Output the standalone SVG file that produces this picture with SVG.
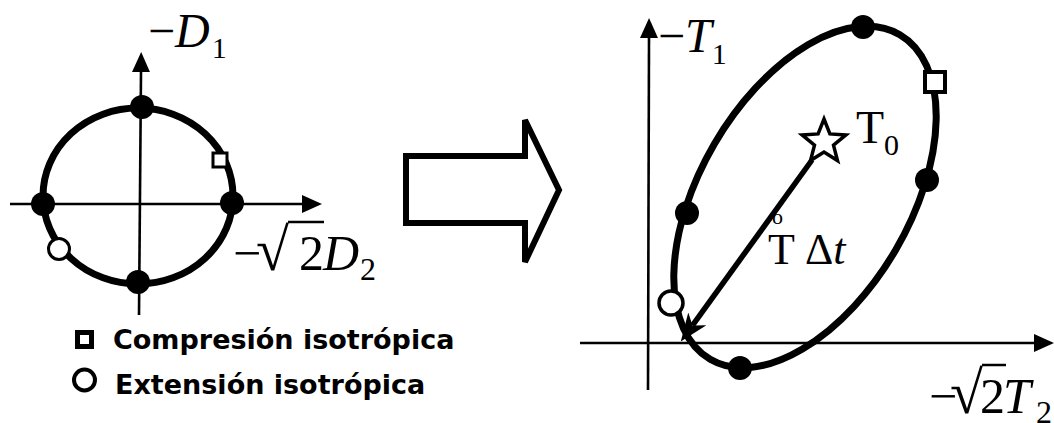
<svg xmlns="http://www.w3.org/2000/svg" width="1054" height="423" viewBox="0 0 1054 423">
<style>
.math{font-family:"Liberation Serif","Times New Roman",serif;fill:#000}
.it{font-style:italic}
.leg{font-family:"DejaVu Sans",Verdana,sans-serif;font-weight:bold;font-size:27px;fill:#000}
.axis{stroke:#000;stroke-width:2.6;fill:none}
.curve{stroke:#000;stroke-width:7;fill:none}
.dot{fill:#000}
.open{fill:#fff;stroke:#000}
</style>
<defs>
<marker id="ah" markerUnits="userSpaceOnUse" markerWidth="20" markerHeight="18" refX="0" refY="9" orient="auto" viewBox="0 0 20 18">
<path d="M0,0 L20,9 L0,18 z" fill="#000"/>
</marker>
<marker id="barb" markerUnits="userSpaceOnUse" markerWidth="28" markerHeight="22" refX="8" refY="11" orient="auto" viewBox="0 0 28 22">
<path d="M0,0 L28,11 L0,22 L8,11 z" fill="#000"/>
</marker>
</defs>
<rect width="1054" height="423" fill="#fff"/>

<g id="connectors">
<line class="axis" x1="139" y1="315" x2="141" y2="72" marker-end="url(#ah)"/>
<line class="axis" x1="10" y1="204" x2="302" y2="204" marker-end="url(#ah)"/>
<line class="axis" x1="648" y1="390" x2="649" y2="38" marker-end="url(#ah)"/>
<line class="axis" x1="580" y1="343" x2="1034" y2="343" marker-end="url(#ah)"/>
<line x1="812" y1="160" x2="692.5" y2="325.4" stroke="#000" stroke-width="5.5" marker-end="url(#barb)"/>
</g>

<g id="left-circle">
<ellipse class="curve" cx="138" cy="196" rx="95" ry="88"/>
<circle class="dot" cx="142" cy="107" r="12"/>
<circle class="dot" cx="138" cy="282" r="12"/>
<circle class="dot" cx="43" cy="204" r="12"/>
<circle class="dot" cx="232" cy="203" r="12"/>
<rect class="open" x="213" y="153" width="14" height="14" stroke-width="3"/>
<circle class="open" cx="59" cy="249" r="10.5" stroke-width="3"/>
</g>

<g id="label-D1">
<text class="math" x="148" y="47" font-size="48">−<tspan class="it">D</tspan><tspan font-size="30" dx="2" dy="11">1</tspan></text>
</g>

<g id="label-D2">
<text class="math" y="270" font-size="50"><tspan x="233">−</tspan><tspan x="256" font-size="60">√</tspan><tspan x="299">2</tspan><tspan x="323" class="it">D</tspan><tspan x="360" dy="10" font-size="32">2</tspan></text>
<line x1="288" y1="222" x2="324" y2="222" stroke="#000" stroke-width="2.5"/>
</g>

<g id="legend-compresion">
<rect x="77.5" y="332.5" width="14" height="14" fill="#fff" stroke="#000" stroke-width="5"/>
<text class="leg" x="113" y="349">Compresión isotrópica</text>
</g>
<g id="legend-extension">
<circle cx="84.5" cy="380" r="10.5" fill="#fff" stroke="#000" stroke-width="4"/>
<text class="leg" x="115" y="394">Extensión isotrópica</text>
</g>

<g id="big-arrow">
<polygon points="406,156 525,156 525,120 559,190 525,262 525,223 406,223" fill="#fff" stroke="#000" stroke-width="6" stroke-linejoin="miter"/>
</g>

<g id="right-ellipse">
<ellipse class="curve" cx="805" cy="197" rx="188" ry="105" transform="rotate(-59.7 805 197)"/>
<circle class="dot" cx="863" cy="27" r="12"/>
<circle class="dot" cx="687" cy="213" r="12"/>
<circle class="dot" cx="927" cy="180" r="12"/>
<circle class="dot" cx="740" cy="368" r="12"/>
<rect class="open" x="925" y="72" width="20" height="20" stroke-width="4"/>
<circle class="open" cx="671" cy="303" r="12" stroke-width="3.5"/>
</g>

<g id="star-T0">
<polygon points="824,119 829.9,133.9 845.9,134.9 833.5,145.1 837.5,160.6 824,152 810.5,160.6 814.5,145.1 802.1,134.9 818.1,133.9" fill="#fff" stroke="#000" stroke-width="3.5" stroke-linejoin="miter"/>
<text class="math" x="856" y="143" font-size="46">T<tspan font-size="30" dy="12">0</tspan></text>
</g>

<g id="label-T1">
<text class="math" x="658" y="52" font-size="48">−<tspan class="it">T</tspan><tspan font-size="30" dy="12">1</tspan></text>
</g>

<g id="label-Tdt">
<text class="math" x="772" y="224" font-size="22">o</text>
<text class="math" x="768" y="264" font-size="44">T<tspan dx="10">Δ</tspan><tspan class="it">t</tspan></text>
</g>

<g id="label-T2">
<text class="math" y="413" font-size="50"><tspan x="929">−</tspan><tspan x="950" font-size="60">√</tspan><tspan x="980">2</tspan><tspan x="1003" class="it">T</tspan><tspan x="1036" dy="10" font-size="32">2</tspan></text>
<line x1="982" y1="365" x2="1006" y2="365" stroke="#000" stroke-width="2.5"/>
</g>
</svg>
